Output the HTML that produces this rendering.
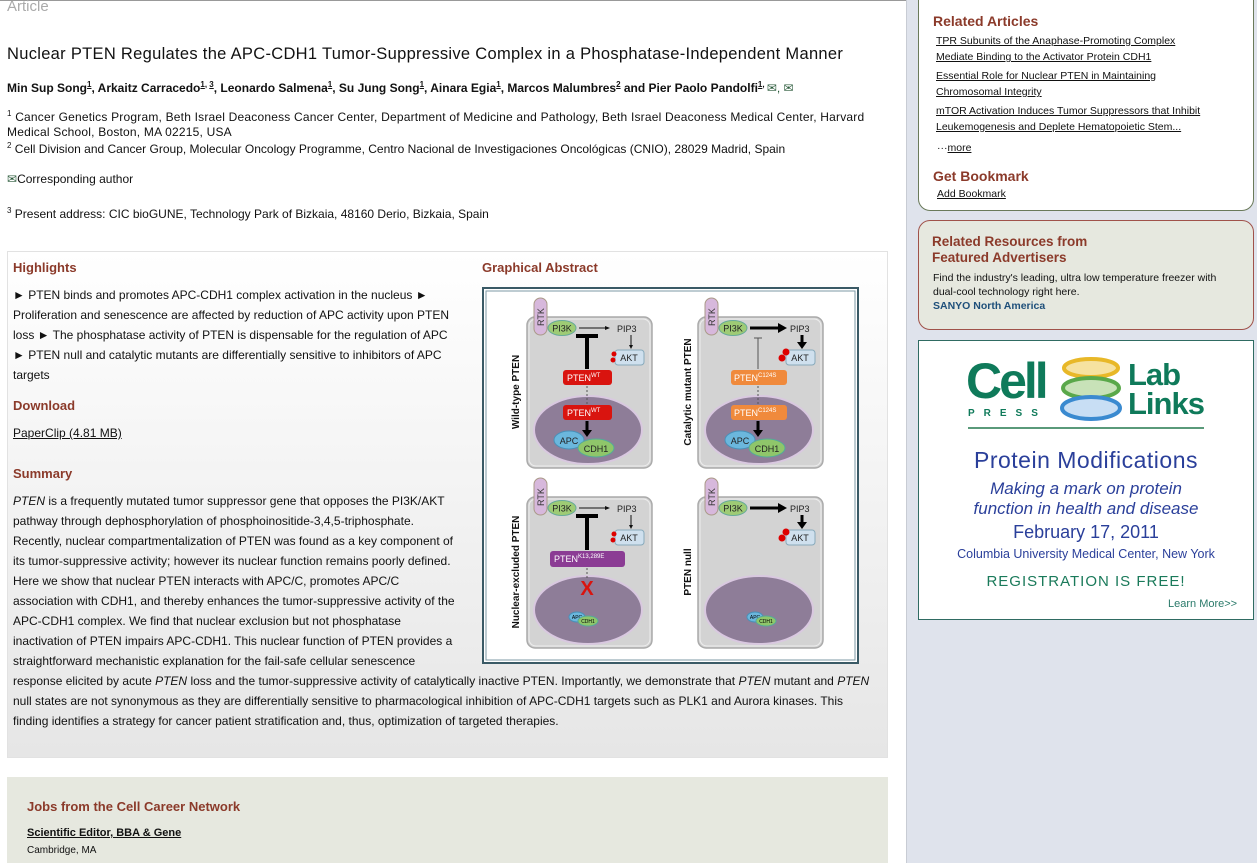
<!DOCTYPE html>
<html><head><meta charset="utf-8"><style>
body{margin:0;width:1257px;height:863px;overflow:hidden;background:#fff;font-family:"Liberation Sans",Arial,sans-serif;position:relative;color:#111}
.a{position:absolute;white-space:nowrap}
.t12{font-size:12px}
.h{color:#8b3a2a;font-weight:bold;font-size:13px}
u{text-decoration:underline}
sup{font-size:8px}
.sl{position:absolute;left:13px;font-size:12px;white-space:nowrap}
</style></head><body>
<div class="a" style="left:0;top:0;width:1257px;height:1px;background:#999"></div>
<div class="a" style="left:907px;top:0;width:350px;height:863px;background:#dfe3ec"></div>
<div class="a" style="left:906px;top:0;width:1px;height:863px;background:#c8ccd4"></div>

<div class="a" style="left:7px;top:-2px;font-size:15px;color:#aaa">Article</div>
<div class="a" style="left:7px;top:45px;font-size:16.5px;color:#111;letter-spacing:0.3px">Nuclear PTEN Regulates the APC-CDH1 Tumor-Suppressive Complex in a Phosphatase-Independent Manner</div>
<div class="a t12" style="left:7px;top:80px;font-weight:bold">Min Sup Song<sup><u>1</u></sup>, Arkaitz Carracedo<sup><u>1</u>, <u>3</u></sup>, Leonardo Salmena<sup><u>1</u></sup>, Su Jung Song<sup><u>1</u></sup>, Ainara Egia<sup><u>1</u></sup>, Marcos Malumbres<sup><u>2</u></sup> and Pier Paolo Pandolfi<sup><u>1</u>, </sup> <span style="font-weight:normal;color:#2a5a3a">&#9993;, &#9993;</span></div>
<div class="a t12" style="left:7px;top:106px;line-height:15px;letter-spacing:0.2px"><sup>1</sup> Cancer Genetics Program, Beth Israel Deaconess Cancer Center, Department of Medicine and Pathology, Beth Israel Deaconess Medical Center, Harvard<br>Medical School, Boston, MA 02215, USA</div>
<div class="a t12" style="left:7px;top:141px"><sup>2</sup> Cell Division and Cancer Group, Molecular Oncology Programme, Centro Nacional de Investigaciones Oncológicas (CNIO), 28029 Madrid, Spain</div>
<div class="a t12" style="left:7px;top:172px"><span style="color:#2a5a3a">&#9993;</span>Corresponding author</div>
<div class="a t12" style="left:7px;top:206px"><sup>3</sup> Present address: CIC bioGUNE, Technology Park of Bizkaia, 48160 Derio, Bizkaia, Spain</div>

<div class="a" style="left:7px;top:251px;width:879px;height:505px;border:1px solid #e2e2e2;background:linear-gradient(#fff,#e6e6e6)"></div>
<div class="a h" style="left:13px;top:260px">Highlights</div>
<div class="a h" style="left:482px;top:260px">Graphical Abstract</div>
<div class="sl" style="top:288px">► PTEN binds and promotes APC-CDH1 complex activation in the nucleus ►</div>
<div class="sl" style="top:308px">Proliferation and senescence are affected by reduction of APC activity upon PTEN</div>
<div class="sl" style="top:328px">loss ► The phosphatase activity of PTEN is dispensable for the regulation of APC</div>
<div class="sl" style="top:348px">► PTEN null and catalytic mutants are differentially sensitive to inhibitors of APC</div>
<div class="sl" style="top:368px">targets</div>
<div class="a h" style="left:13px;top:398px">Download</div>
<div class="sl" style="top:426px"><u>PaperClip (4.81 MB)</u></div>
<div class="a h" style="left:13px;top:466px">Summary</div>
<div class="sl" style="top:494px"><i>PTEN</i> is a frequently mutated tumor suppressor gene that opposes the PI3K/AKT</div>
<div class="sl" style="top:514px">pathway through dephosphorylation of phosphoinositide-3,4,5-triphosphate.</div>
<div class="sl" style="top:534px">Recently, nuclear compartmentalization of PTEN was found as a key component of</div>
<div class="sl" style="top:554px">its tumor-suppressive activity; however its nuclear function remains poorly defined.</div>
<div class="sl" style="top:574px">Here we show that nuclear PTEN interacts with APC/C, promotes APC/C</div>
<div class="sl" style="top:594px">association with CDH1, and thereby enhances the tumor-suppressive activity of the</div>
<div class="sl" style="top:614px">APC-CDH1 complex. We find that nuclear exclusion but not phosphatase</div>
<div class="sl" style="top:634px">inactivation of PTEN impairs APC-CDH1. This nuclear function of PTEN provides a</div>
<div class="sl" style="top:654px">straightforward mechanistic explanation for the fail-safe cellular senescence</div>
<div class="sl" style="top:674px">response elicited by acute <i>PTEN</i> loss and the tumor-suppressive activity of catalytically inactive PTEN. Importantly, we demonstrate that <i>PTEN</i> mutant and <i>PTEN</i></div>
<div class="sl" style="top:694px">null states are not synonymous as they are differentially sensitive to pharmacological inhibition of APC-CDH1 targets such as PLK1 and Aurora kinases. This</div>
<div class="sl" style="top:714px">finding identifies a strategy for cancer patient stratification and, thus, optimization of targeted therapies.</div>

<svg class="a" style="left:482px;top:287px" width="377" height="377" viewBox="482 287 377 377">
<defs>
<g id="cell"><rect x="0" y="0" width="125" height="151" rx="8" fill="#d3d3d3" stroke="#aaa" stroke-width="1.5"/><rect x="2" y="2" width="121" height="147" rx="7" fill="none" stroke="#eee" stroke-width="1"/></g>
<g id="top">
<rect x="7" y="-19" width="13" height="37" rx="6.5" fill="#d7b8dc" stroke="#a98"/>
<text x="0" y="0" transform="translate(17,9) rotate(-90)" font-size="9" fill="#333">RTK</text>
<ellipse cx="35" cy="11" rx="14" ry="7.5" fill="#9ecb75" stroke="#6a9"/>
<text x="35" y="14.5" font-size="9" text-anchor="middle" fill="#222">PI3K</text>
<rect x="88" y="33" width="29" height="15" rx="3" fill="#cfe0ee" stroke="#8ab"/>
<text x="102" y="44" font-size="9" text-anchor="middle" fill="#222">AKT</text>
</g>
</defs>
<rect x="483" y="288" width="375" height="375" fill="#fff" stroke="#3a5a66" stroke-width="2"/>
<rect x="486" y="291" width="369" height="369" fill="none" stroke="#7d9aa6" stroke-width="1"/>

<g transform="translate(527,317)">
<use href="#cell"/><use href="#top"/>
<line x1="52" y1="11" x2="79" y2="11" stroke="#111"/><polygon points="83,11 78,9 78,13" fill="#111"/>
<text x="90" y="15" font-size="9" fill="#222">PIP3</text>
<line x1="104" y1="18" x2="104" y2="29" stroke="#111"/><polygon points="104,32 102,28 106,28" fill="#111"/>
<circle cx="87" cy="37" r="2.5" fill="#d00"/><circle cx="86" cy="43" r="2.5" fill="#d00"/>
<line x1="60" y1="20" x2="60" y2="52" stroke="#000" stroke-width="4"/><line x1="49" y1="19" x2="71" y2="19" stroke="#000" stroke-width="4"/>
<ellipse cx="61" cy="113" rx="54" ry="34" fill="#8e7d98" stroke="#d9c8e0" stroke-width="2"/>
<rect x="36" y="53" width="49" height="15" rx="3" fill="#d9140f"/><text x="40" y="64" font-size="9" fill="#fff">PTEN<tspan font-size="6" dy="-4">WT</tspan></text>
<line x1="60" y1="69" x2="60" y2="87" stroke="#555" stroke-dasharray="2,2"/>
<rect x="36" y="88" width="49" height="15" rx="3" fill="#d9140f"/><text x="40" y="99" font-size="9" fill="#fff">PTEN<tspan font-size="6" dy="-4">WT</tspan></text>
<line x1="60" y1="104" x2="60" y2="114" stroke="#000" stroke-width="3"/><polygon points="60,120 55,113 65,113" fill="#000"/>
<ellipse cx="42" cy="123" rx="15" ry="9" fill="#6bb7dd" stroke="#4a90b8"/><text x="42" y="127" font-size="9" text-anchor="middle" fill="#222">APC</text>
<ellipse cx="69" cy="131" rx="18" ry="9" fill="#8fc66a" stroke="#5a9"/><text x="69" y="135" font-size="9" text-anchor="middle" fill="#222">CDH1</text>
</g>
<text transform="translate(519,392) rotate(-90)" font-size="10" font-weight="bold" text-anchor="middle" fill="#111">Wild-type PTEN</text>

<g transform="translate(698,317)">
<use href="#cell"/><use href="#top"/>
<line x1="52" y1="11" x2="80" y2="11" stroke="#000" stroke-width="3"/><polygon points="89,11 80,6 80,16" fill="#000"/>
<text x="92" y="15" font-size="9" fill="#222">PIP3</text>
<line x1="104" y1="18" x2="104" y2="26" stroke="#000" stroke-width="3"/><polygon points="104,32 99,25 109,25" fill="#000"/>
<circle cx="88" cy="35" r="3.5" fill="#d00"/><circle cx="84" cy="41" r="3.5" fill="#d00"/>
<line x1="60" y1="21" x2="60" y2="52" stroke="#555"/><line x1="56" y1="21" x2="64" y2="21" stroke="#555"/>
<ellipse cx="61" cy="113" rx="54" ry="34" fill="#8e7d98" stroke="#d9c8e0" stroke-width="2"/>
<rect x="33" y="53" width="56" height="15" rx="3" fill="#f08a3c"/><text x="36" y="64" font-size="9" fill="#fff">PTEN<tspan font-size="6" dy="-4">C124S</tspan></text>
<line x1="60" y1="69" x2="60" y2="87" stroke="#555" stroke-dasharray="2,2"/>
<rect x="33" y="88" width="56" height="15" rx="3" fill="#f08a3c"/><text x="36" y="99" font-size="9" fill="#fff">PTEN<tspan font-size="6" dy="-4">C124S</tspan></text>
<line x1="60" y1="104" x2="60" y2="114" stroke="#000" stroke-width="3"/><polygon points="60,120 55,113 65,113" fill="#000"/>
<ellipse cx="42" cy="123" rx="15" ry="9" fill="#6bb7dd" stroke="#4a90b8"/><text x="42" y="127" font-size="9" text-anchor="middle" fill="#222">APC</text>
<ellipse cx="69" cy="131" rx="18" ry="9" fill="#8fc66a" stroke="#5a9"/><text x="69" y="135" font-size="9" text-anchor="middle" fill="#222">CDH1</text>
</g>
<text transform="translate(691,392) rotate(-90)" font-size="10" font-weight="bold" text-anchor="middle" fill="#111">Catalytic mutant PTEN</text>

<g transform="translate(527,497)">
<use href="#cell"/><use href="#top"/>
<line x1="52" y1="11" x2="79" y2="11" stroke="#111"/><polygon points="83,11 78,9 78,13" fill="#111"/>
<text x="90" y="15" font-size="9" fill="#222">PIP3</text>
<line x1="104" y1="18" x2="104" y2="29" stroke="#111"/><polygon points="104,32 102,28 106,28" fill="#111"/>
<circle cx="87" cy="37" r="2.5" fill="#d00"/><circle cx="86" cy="43" r="2.5" fill="#d00"/>
<line x1="60" y1="20" x2="60" y2="53" stroke="#000" stroke-width="4"/><line x1="49" y1="19" x2="71" y2="19" stroke="#000" stroke-width="4"/>
<ellipse cx="61" cy="113" rx="54" ry="34" fill="#8e7d98" stroke="#d9c8e0" stroke-width="2"/>
<rect x="23" y="54" width="75" height="16" rx="3" fill="#8b3c94"/><text x="27" y="65" font-size="9" fill="#fff">PTEN<tspan font-size="6" dy="-4">K13,289E</tspan></text>
<line x1="60" y1="71" x2="60" y2="82" stroke="#555" stroke-dasharray="2,2"/>
<text x="60" y="98" font-size="20" font-weight="bold" fill="#d9140f" text-anchor="middle">X</text>
<ellipse cx="50" cy="120" rx="8" ry="5" fill="#6bb7dd" stroke="#4a90b8"/><text x="50" y="122" font-size="5" text-anchor="middle">APC</text>
<ellipse cx="61" cy="124" rx="10" ry="5" fill="#8fc66a" stroke="#5a9"/><text x="61" y="126" font-size="5" text-anchor="middle">CDH1</text>
</g>
<text transform="translate(519,572) rotate(-90)" font-size="10" font-weight="bold" text-anchor="middle" fill="#111">Nuclear-excluded PTEN</text>

<g transform="translate(698,497)">
<use href="#cell"/><use href="#top"/>
<line x1="52" y1="11" x2="80" y2="11" stroke="#000" stroke-width="3"/><polygon points="89,11 80,6 80,16" fill="#000"/>
<text x="92" y="15" font-size="9" fill="#222">PIP3</text>
<line x1="104" y1="18" x2="104" y2="26" stroke="#000" stroke-width="3"/><polygon points="104,32 99,25 109,25" fill="#000"/>
<circle cx="88" cy="35" r="3.5" fill="#d00"/><circle cx="84" cy="41" r="3.5" fill="#d00"/>
<ellipse cx="61" cy="113" rx="54" ry="34" fill="#8e7d98" stroke="#d9c8e0" stroke-width="2"/>
<ellipse cx="57" cy="120" rx="8" ry="5" fill="#6bb7dd" stroke="#4a90b8"/><text x="57" y="122" font-size="5" text-anchor="middle">APC</text>
<ellipse cx="68" cy="124" rx="10" ry="5" fill="#8fc66a" stroke="#5a9"/><text x="68" y="126" font-size="5" text-anchor="middle">CDH1</text>
</g>
<text transform="translate(691,572) rotate(-90)" font-size="10" font-weight="bold" text-anchor="middle" fill="#111">PTEN null</text>
</svg>

<div class="a" style="left:7px;top:777px;width:881px;height:86px;background:#e6e8df"></div>
<div class="a h" style="left:27px;top:799px">Jobs from the Cell Career Network</div>
<div class="a" style="left:27px;top:827px;font-size:11px;font-weight:bold"><u>Scientific Editor, BBA &amp; Gene</u></div>
<div class="a" style="left:27px;top:845px;font-size:10px">Cambridge, MA</div>

<div class="a" style="left:918px;top:-12px;width:334px;height:221px;background:#fff;border:1px solid #6a7a5a;border-radius:12px"></div>
<div class="a h" style="left:933px;top:13px;font-size:14px">Related Articles</div>
<div class="a" style="left:936px;top:33px;font-size:10.5px;line-height:16px"><u>TPR Subunits of the Anaphase-Promoting Complex</u><br><u>Mediate Binding to the Activator Protein CDH1</u></div>
<div class="a" style="left:936px;top:68px;font-size:10.5px;line-height:16px"><u>Essential Role for Nuclear PTEN in Maintaining</u><br><u>Chromosomal Integrity</u></div>
<div class="a" style="left:936px;top:103px;font-size:10.5px;line-height:16px"><u>mTOR Activation Induces Tumor Suppressors that Inhibit</u><br><u>Leukemogenesis and Deplete Hematopoietic Stem...</u></div>
<div class="a" style="left:937px;top:142px;font-size:10.5px">···<u>more</u></div>
<div class="a h" style="left:933px;top:168px;font-size:14px">Get Bookmark</div>
<div class="a" style="left:937px;top:188px;font-size:10.5px"><u>Add Bookmark</u></div>

<div class="a" style="left:918px;top:220px;width:334px;height:108px;background:#e6e8df;border:1px solid #a0524a;border-radius:12px"></div>
<div class="a h" style="left:932px;top:234px;font-size:13.5px;line-height:16px">Related Resources from<br>Featured Advertisers</div>
<div class="a" style="left:933px;top:271px;font-size:10.5px;line-height:14px">Find the industry's leading, ultra low temperature freezer with<br>dual-cool technology right here.<br><b style="color:#1e4f7a">SANYO North America</b></div>

<div class="a" style="left:918px;top:340px;width:334px;height:278px;background:#fff;border:1px solid #2f6b62"></div>
<div class="a" style="left:966px;top:352px;font-size:50px;font-weight:bold;color:#0f7a5a;letter-spacing:-3px">Cell</div>
<div class="a" style="left:968px;top:408px;font-size:10px;font-weight:bold;color:#0f7a5a;letter-spacing:9px">PRESS</div>
<svg class="a" style="left:1058px;top:354px" width="66" height="70">
<ellipse cx="33" cy="14" rx="27" ry="9" fill="#f6e2a0" stroke="#e8b828" stroke-width="4"/>
<ellipse cx="33" cy="34" rx="28" ry="10" fill="#c8e2b8" stroke="#5aa84a" stroke-width="4"/>
<ellipse cx="33" cy="54" rx="29" ry="11" fill="#c8def4" stroke="#3a8ad0" stroke-width="4"/>
</svg>
<div class="a" style="left:1128px;top:360px;font-size:31px;font-weight:bold;color:#0f7a5a;line-height:29px;letter-spacing:-1px">Lab<br>Links</div>
<div class="a" style="left:968px;top:427px;width:236px;height:2px;background:#5a9a7a"></div>
<div class="a" style="left:918px;top:447px;width:336px;text-align:center;font-size:23px;color:#2a3f9a;letter-spacing:0.5px">Protein Modifications</div>
<div class="a" style="left:918px;top:479px;width:336px;text-align:center;font-size:17px;font-style:italic;color:#2a3f9a;line-height:20px">Making a mark on protein<br>function in health and disease</div>
<div class="a" style="left:918px;top:522px;width:336px;text-align:center;font-size:18px;color:#2a3f9a">February 17, 2011</div>
<div class="a" style="left:918px;top:547px;width:336px;text-align:center;font-size:12.5px;color:#2a3f9a">Columbia University Medical Center, New York</div>
<div class="a" style="left:918px;top:573px;width:336px;text-align:center;font-size:15px;color:#1a7a5a;letter-spacing:1px">REGISTRATION IS FREE!</div>
<div class="a" style="left:1168px;top:598px;font-size:11px;color:#2a7a6a">Learn More&gt;&gt;</div>
</body></html>
